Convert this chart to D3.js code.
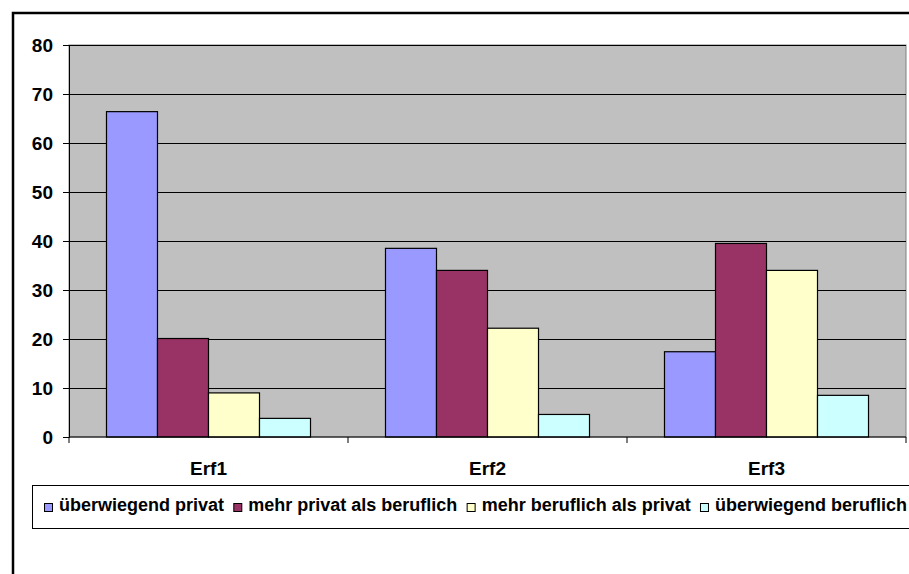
<!DOCTYPE html>
<html>
<head>
  <meta charset="utf-8">
  <script src="https://d3js.org/d3.v7.min.js"></script>
  <style>
    body { margin: 0; background: #fff; }
    text { font-family: "Liberation Sans", Arial, sans-serif; font-weight: bold; fill: #000; }
    .grid line { stroke: #000; stroke-width: 1px; }
  </style>
</head>
<body>
  <svg width="909" height="574"></svg>
  <script>
    // data
    var categories = ["Erf1", "Erf2", "Erf3"];
    var seriesNames = ["überwiegend privat", "mehr privat als beruflich", "mehr beruflich als privat", "überwiegend beruflich"];
    var seriesColors = ["#9999FF", "#993366", "#FFFFCC", "#CCFFFF"];
    var uberwiegendPrivat = [66.4, 38.5, 17.4];
    var mehrPrivat = [20.1, 34.0, 39.5];
    var mehrBeruflich = [9.0, 22.2, 34.0];
    var uberwiegendBeruflich = [3.8, 4.6, 8.5];
    var yTicks = [0, 10, 20, 30, 40, 50, 60, 70, 80];

    var series = [uberwiegendPrivat, mehrPrivat, mehrBeruflich, uberwiegendBeruflich];

    var svg = d3.select("svg"),
      plot = { left: 69, top: 45, right: 906, bottom: 437 };

    // outer chart frame (cut off on the right and bottom like the original)
    svg.append("rect")
      .attr("x", 13).attr("y", 13)
      .attr("width", 1000).attr("height", 1000)
      .attr("fill", "#fff")
      .attr("stroke", "#000")
      .attr("stroke-width", 2.5);

    var x0 = d3.scaleBand().domain(categories).range([plot.left, plot.right]).paddingInner(0).paddingOuter(0);
    var x1 = d3.scaleBand().domain(d3.range(series.length)).range([0, x0.bandwidth()]).paddingOuter(0.735);
    var y = d3.scaleLinear().domain([0, 80]).range([plot.bottom, plot.top]);

    // plot area
    svg.append("rect")
      .attr("x", plot.left).attr("y", plot.top)
      .attr("width", plot.right - plot.left).attr("height", plot.bottom - plot.top)
      .attr("fill", "#C0C0C0")
      .attr("stroke", "#808080");

    svg.append("g")
      .attr("class", "grid")
      .selectAll("line")
      .data(yTicks.filter(function(d) { return d > 0; }))
      .enter().append("line")
      .attr("x1", plot.left).attr("x2", plot.right)
      .attr("y1", function(d) { return Math.round(y(d)) + 0.5; })
      .attr("y2", function(d) { return Math.round(y(d)) + 0.5; });

    // bars
    var groups = svg.append("g").selectAll("g")
      .data(categories)
      .enter().append("g")
      .attr("transform", function(d) { return "translate(" + x0(d) + ",0)"; });

    groups.selectAll("rect")
      .data(function(d, i) {
        return series.map(function(s, k) { return { k: k, v: s[i] }; });
      })
      .enter().append("rect")
      .attr("x", function(d) { return x1(d.k); })
      .attr("width", x1.bandwidth())
      .attr("y", function(d) { return y(d.v); })
      .attr("height", function(d) { return y(0) - y(d.v); })
      .attr("fill", function(d) { return seriesColors[d.k]; })
      .attr("stroke", "#000")
      .attr("stroke-width", 1.2);

    // y axis
    var yAxis = d3.axisLeft(y).tickValues(yTicks).tickSize(6).tickPadding(10);
    var yg = svg.append("g")
      .attr("transform", "translate(" + plot.left + ",0)")
      .call(yAxis);
    yg.select(".domain").attr("stroke", "#000");
    yg.selectAll(".tick line").attr("stroke", "#000");
    yg.selectAll("text").style("font-size", "19px").attr("dy", "0.35em");

    // x axis: ticks at category boundaries
    var xg = svg.append("g").attr("transform", "translate(0," + plot.bottom + ")");
    xg.append("line")
      .attr("x1", plot.left).attr("x2", plot.right)
      .attr("stroke", "#000");
    xg.selectAll(".xtick")
      .data(categories.concat(["end"]))
      .enter().append("line")
      .attr("x1", function(d, i) { return plot.left + i * x0.bandwidth(); })
      .attr("x2", function(d, i) { return plot.left + i * x0.bandwidth(); })
      .attr("y1", 0).attr("y2", 6)
      .attr("stroke", "#000");
    xg.selectAll("text")
      .data(categories)
      .enter().append("text")
      .attr("x", function(d) { return x0(d) + x0.bandwidth() / 2; })
      .attr("y", 38)
      .attr("text-anchor", "middle")
      .style("font-size", "19px")
      .text(function(d) { return d; });

    // legend
    var legend = svg.append("g");
    legend.append("rect")
      .attr("x", 32.5).attr("y", 485.5)
      .attr("width", 1000).attr("height", 43)
      .attr("fill", "#fff")
      .attr("stroke", "#000");

    var items = seriesNames.map(function(name, k) {
      var box = legend.append("rect")
        .attr("y", 503.5)
        .attr("width", 8).attr("height", 8)
        .attr("fill", seriesColors[k])
        .attr("stroke", "#000");
      var t = legend.append("text")
        .attr("y", 511)
        .style("font-size", "18px")
        .text(name);
      return { box: box, text: t, w: t.node().getComputedTextLength() };
    });
    // spread the entries evenly between the first swatch and the right end
    var startX = 44, endX = 907;
    var totalW = d3.sum(items, function(d) { return 15 + d.w; });
    var gap = (endX - startX - totalW) / (items.length - 1);
    var lx = startX;
    items.forEach(function(d) {
      d.box.attr("x", lx + 0.5);
      d.text.attr("x", lx + 15);
      lx += 15 + d.w + gap;
    });
  </script>
</body>
</html>
